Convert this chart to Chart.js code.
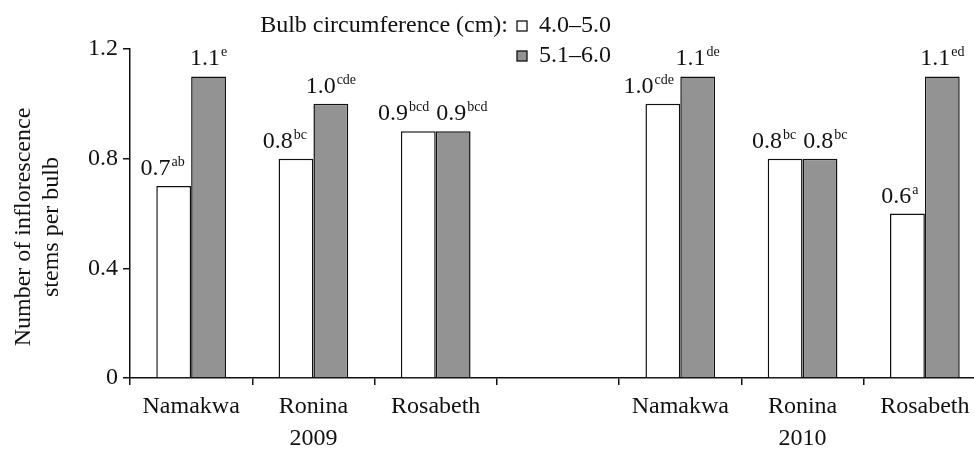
<!DOCTYPE html>
<html><head><meta charset="utf-8">
<script src="https://cdn.jsdelivr.net/npm/chart.js@4"></script>
<style>html,body{margin:0;padding:0;overflow:hidden;background:#fff;width:974px;height:450px}canvas{display:block}</style>
</head><body>
<canvas id="c" width="990" height="450"></canvas>
<script>
const categories = ['Namakwa','Ronina','Rosabeth','','Namakwa','Ronina','Rosabeth'];
const years = ['','2009','','','','2010',''];
const small = [0.7,0.8,0.9,null,1.0,0.8,0.6];
const large = [1.1,1.0,0.9,null,1.1,0.8,1.1];
const smallLetters = ['ab','bc','bcd','','cde','bc','a'];
const largeLetters = ['e','cde','bcd','','de','bc','ed'];
const yTicks = [0,0.4,0.8,1.2];
const legendTitle = 'Bulb circumference (cm):';
const seriesNames = ['4.0–5.0','5.1–6.0'];
const yTitle = ['Number of inflorescence','stems per bulb'];

const FONT = '"Liberation Serif", "Times New Roman", serif';
const INK = '#111';
const GREY = '#939393';

const labelPlugin = {
  id: 'customText',
  afterDraw(chart) {
    const ctx = chart.ctx;
    const m0 = chart.getDatasetMeta(0), m1 = chart.getDatasetMeta(1);
    const mainF = '24px ' + FONT, supF = '14px ' + FONT;
    ctx.save();
    ctx.fillStyle = INK;
    ctx.textBaseline = 'alphabetic';
    const width = (t, s) => { ctx.font = mainF; const a = ctx.measureText(t).width; ctx.font = supF; return a + 1 + ctx.measureText(s).width; };
    const draw = (x, y, t, s) => {
      ctx.textAlign = 'left';
      ctx.font = mainF; ctx.fillText(t, x, y);
      const a = ctx.measureText(t).width;
      ctx.font = supF; ctx.fillText(s, x + a + 1, y - 9);
    };
    for (let i = 0; i < categories.length; i++) {
      if (small[i] == null) continue;
      const b0 = m0.data[i], b1 = m1.data[i];
      const t0 = small[i].toFixed(1), t1 = large[i].toFixed(1);
      const w0 = width(t0, smallLetters[i]), w1 = width(t1, largeLetters[i]);
      const y0 = b0.y - 11, y1 = b1.y - 11;
      const r0 = b0.x + 11;
      let x1 = b1.x - w1 / 2;
      if (Math.abs(y0 - y1) < 20) x1 = Math.max(x1, r0 + 7);
      draw(r0 - w0, y0, t0, smallLetters[i]);
      draw(x1, y1, t1, largeLetters[i]);
    }
    // legend
    ctx.font = mainF;
    ctx.textAlign = 'right';
    ctx.fillText(legendTitle, 508, 32);
    const fills = [chart.data.datasets[0].backgroundColor, chart.data.datasets[1].backgroundColor];
    [32, 62].forEach((by, k) => {
      ctx.fillStyle = fills[k];
      ctx.fillRect(517, by - 11, 10, 10);
      ctx.strokeStyle = INK; ctx.lineWidth = 1.3;
      ctx.strokeRect(517, by - 11, 10, 10);
      ctx.fillStyle = INK;
      ctx.textAlign = 'left';
      ctx.font = mainF;
      ctx.fillText(seriesNames[k], 539, by);
    });
    // y title
    ctx.translate(0, 227);
    ctx.rotate(-Math.PI / 2);
    ctx.textAlign = 'center';
    ctx.textBaseline = 'middle';
    ctx.font = mainF;
    ctx.fillText(yTitle[0], 0, 24);
    ctx.fillText(yTitle[1], 0, 52);
    ctx.restore();
  }
};

new Chart(document.getElementById('c'), {
  type: 'bar',
  data: {
    labels: categories.map((c, i) => years[i] ? [c, years[i]] : c),
    datasets: [
      { label: seriesNames[0], data: small, backgroundColor: '#ffffff', borderColor: INK, borderWidth: 1.5, categoryPercentage: 0.57, barPercentage: 1 },
      { label: seriesNames[1], data: large, backgroundColor: GREY, borderColor: INK, borderWidth: 1.5, categoryPercentage: 0.57, barPercentage: 1 }
    ]
  },
  options: {
    responsive: false,
    animation: false,
    layout: { padding: { top: 49, right: 4, left: 0, bottom: 0 } },
    plugins: { legend: { display: false }, tooltip: { enabled: false } },
    scales: {
      x: {
        offset: true,
        grid: { drawOnChartArea: false, drawTicks: true, tickLength: 7, color: INK, lineWidth: 1.5, offset: true },
        border: { display: true, color: INK, width: 1.5 },
        ticks: { color: INK, font: { family: FONT, size: 24, lineHeight: 32 / 24 }, padding: 6, maxRotation: 0, autoSkip: false },
        afterFit(s) { s.height = 72; }
      },
      y: {
        min: 0, max: 1.2,
        afterBuildTicks(s) { s.ticks = yTicks.map(v => ({ value: v })); },
        grid: { drawOnChartArea: false, drawTicks: true, tickLength: 7, color: INK, lineWidth: 1.5 },
        border: { display: true, color: INK, width: 1.5 },
        ticks: { color: INK, font: { family: FONT, size: 24 }, padding: 5, callback: v => v === 0 ? '0' : v.toFixed(1) },
        afterFit(s) { s.width = 130; }
      }
    }
  },
  plugins: [labelPlugin]
});
</script>
</body></html>
